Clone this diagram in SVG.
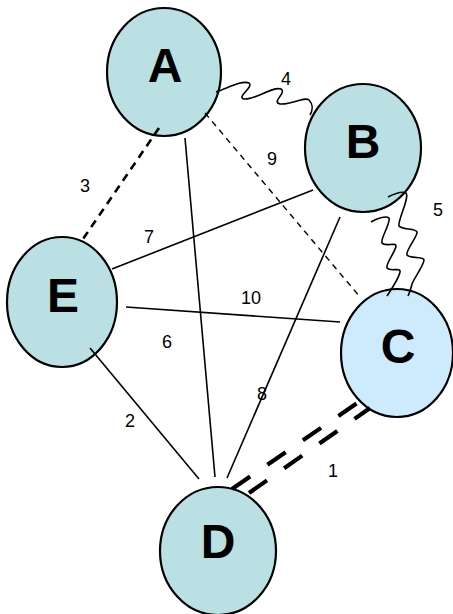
<svg xmlns="http://www.w3.org/2000/svg" width="453" height="614" viewBox="0 0 453 614">
<style>
.node{fill:#bae0e4;stroke:#000;stroke-width:2.2}
.nodeC{fill:#cdebfc;stroke:#000;stroke-width:2.2}
.nl{font-family:"Liberation Sans",Arial,sans-serif;font-weight:bold;font-size:48px;text-anchor:middle;fill:#000}
.el{font-family:"Liberation Sans",Arial,sans-serif;font-size:18px;text-anchor:middle;fill:#000}
.e{fill:none;stroke:#000;stroke-width:1.6}
</style>
<rect width="453" height="614" fill="#fff"/>
<g id="A"><ellipse class="node" cx="164" cy="72" rx="57" ry="64"/><text class="nl" x="165" y="82">A</text></g>
<g id="B"><ellipse class="node" cx="363" cy="148" rx="58" ry="64"/><text class="nl" x="363" y="158">B</text></g>
<g id="E"><ellipse class="node" cx="62" cy="302" rx="55" ry="65"/><text class="nl" x="63" y="312">E</text></g>
<g id="C"><ellipse class="nodeC" cx="397" cy="353" rx="56" ry="64"/><text class="nl" x="398" y="363">C</text></g>
<g id="D"><ellipse class="node" cx="218" cy="551" rx="58" ry="64"/><text class="nl" x="218" y="558">D</text></g>
<g id="connectors">
<path class="e" d="M216,92 C228,88 242,80 249,83 C254,87 236,97 244,99 C256,100 272,86 281,89 C287,93 271,102 280,104 C292,105 305,96 309,100 C313,104 313,110 310,115" stroke-width="1.8"/>
<path class="e" d="M388,197 C394,194 402,191 406,193 C410,197 397,222 399,226 C402,230 416,228 417,232 C418,236 405,251 407,255 C410,259 424,256 424,260 C424,265 413,280 412,284 C411,288 410,292 408,296" stroke-width="1.8"/>
<path class="e" d="M371,222 C376,219 386,215 389,218 C391,223 380,239 382,243 C385,247 396,242 396,246 C396,251 385,264 387,268 C390,272 401,267 400,272 C399,277 391,290 387,296" stroke-width="1.8"/>
<line x1="159" y1="128" x2="83" y2="239" stroke="#000" stroke-width="2.6" stroke-dasharray="8,6"/>
<line x1="205" y1="113" x2="360" y2="297" stroke="#000" stroke-width="1.4" stroke-dasharray="6,5"/>
<line class="e" x1="313" y1="190" x2="112" y2="269"/>
<line class="e" x1="126" y1="307" x2="340" y2="322" stroke-width="2.2"/>
<line class="e" x1="185" y1="138" x2="215" y2="477"/>
<line class="e" x1="340" y1="217" x2="227" y2="478"/>
<line class="e" x1="90" y1="348" x2="199" y2="479"/>
<line x1="232" y1="489" x2="366" y2="397" stroke="#000" stroke-width="4.2" stroke-dasharray="22,21"/>
<line x1="249" y1="493" x2="370" y2="408" stroke="#000" stroke-width="4.2" stroke-dasharray="22,21"/>
<text class="el" x="286" y="85">4</text>
<text class="el" x="438" y="216">5</text>
<text class="el" x="85" y="192">3</text>
<text class="el" x="149" y="243">7</text>
<text class="el" x="272" y="165">9</text>
<text class="el" x="251" y="304">10</text>
<text class="el" x="167" y="348">6</text>
<text class="el" x="262" y="400">8</text>
<text class="el" x="130" y="427">2</text>
<text class="el" x="333" y="477">1</text>
</g>
</svg>
